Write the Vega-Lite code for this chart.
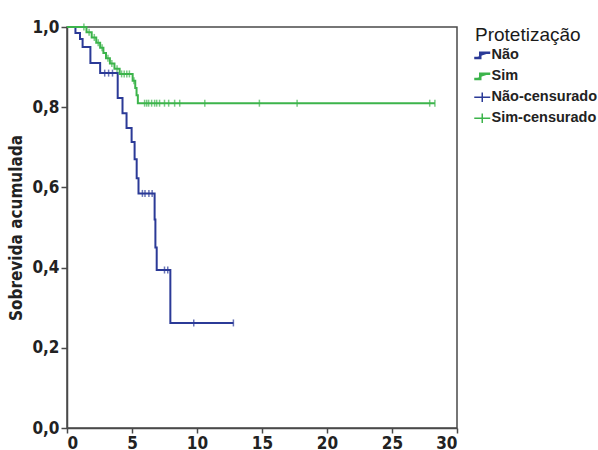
{
  "$schema": "https://vega.github.io/schema/vega-lite/v6.json",
  "width": 390,
  "height": 401,
  "autosize": {"type": "none"},
  "padding": {"left": 67, "top": 27, "right": 141, "bottom": 22},
  "background": "white",
  "config": {
    "view": {"stroke": "#4a4a4a", "strokeWidth": 1.5},
    "axis": {
      "grid": false,
      "domainColor": "#4a4a4a",
      "domainWidth": 1.5,
      "tickColor": "#4a4a4a",
      "tickWidth": 1.5,
      "labelFont": "Liberation Sans Narrow, DejaVu Sans Condensed, sans-serif",
      "labelFontSize": 17,
      "labelFontWeight": "bold",
      "labelColor": "#222222",
      "titleFont": "Liberation Sans Narrow, DejaVu Sans Condensed, sans-serif",
      "titleFontSize": 17,
      "titleFontWeight": "bold",
      "titleColor": "#222222"
    }
  },
  "datasets": {
    "curves": [
      {"grupo": "Não", "t": 0, "s": 1.0},
      {"grupo": "Não", "t": 0.65, "s": 0.985},
      {"grupo": "Não", "t": 1.0, "s": 0.97},
      {"grupo": "Não", "t": 1.2, "s": 0.95},
      {"grupo": "Não", "t": 1.8, "s": 0.91},
      {"grupo": "Não", "t": 2.55, "s": 0.885},
      {"grupo": "Não", "t": 3.9, "s": 0.823},
      {"grupo": "Não", "t": 4.27, "s": 0.785},
      {"grupo": "Não", "t": 4.58, "s": 0.748},
      {"grupo": "Não", "t": 4.97, "s": 0.713},
      {"grupo": "Não", "t": 5.2, "s": 0.67},
      {"grupo": "Não", "t": 5.36, "s": 0.623},
      {"grupo": "Não", "t": 5.5, "s": 0.585},
      {"grupo": "Não", "t": 6.74, "s": 0.52},
      {"grupo": "Não", "t": 6.8, "s": 0.45},
      {"grupo": "Não", "t": 6.9, "s": 0.394},
      {"grupo": "Não", "t": 7.95, "s": 0.262},
      {"grupo": "Não", "t": 12.8, "s": 0.262},
      {"grupo": "Sim", "t": 0, "s": 1.0},
      {"grupo": "Sim", "t": 1.5, "s": 0.987},
      {"grupo": "Sim", "t": 1.9, "s": 0.974},
      {"grupo": "Sim", "t": 2.25, "s": 0.961},
      {"grupo": "Sim", "t": 2.55, "s": 0.948},
      {"grupo": "Sim", "t": 2.8, "s": 0.935},
      {"grupo": "Sim", "t": 3.0, "s": 0.922},
      {"grupo": "Sim", "t": 3.3, "s": 0.909},
      {"grupo": "Sim", "t": 3.65, "s": 0.896},
      {"grupo": "Sim", "t": 4.05, "s": 0.883},
      {"grupo": "Sim", "t": 5.05, "s": 0.866},
      {"grupo": "Sim", "t": 5.25, "s": 0.848},
      {"grupo": "Sim", "t": 5.35, "s": 0.83},
      {"grupo": "Sim", "t": 5.45, "s": 0.81},
      {"grupo": "Sim", "t": 28.3, "s": 0.81}
    ],
    "censors": [
      {"grupo": "Não-censurado", "t": 2.9, "s": 0.885},
      {"grupo": "Não-censurado", "t": 3.2, "s": 0.885},
      {"grupo": "Não-censurado", "t": 3.5, "s": 0.885},
      {"grupo": "Não-censurado", "t": 5.8, "s": 0.585},
      {"grupo": "Não-censurado", "t": 6.0, "s": 0.585},
      {"grupo": "Não-censurado", "t": 6.3, "s": 0.585},
      {"grupo": "Não-censurado", "t": 6.55, "s": 0.585},
      {"grupo": "Não-censurado", "t": 7.5, "s": 0.394},
      {"grupo": "Não-censurado", "t": 7.75, "s": 0.394},
      {"grupo": "Não-censurado", "t": 9.75, "s": 0.262},
      {"grupo": "Não-censurado", "t": 12.8, "s": 0.262},
      {"grupo": "Sim-censurado", "t": 1.3, "s": 1.0},
      {"grupo": "Sim-censurado", "t": 1.7, "s": 0.987},
      {"grupo": "Sim-censurado", "t": 2.1, "s": 0.974},
      {"grupo": "Sim-censurado", "t": 2.4, "s": 0.961},
      {"grupo": "Sim-censurado", "t": 2.7, "s": 0.948},
      {"grupo": "Sim-censurado", "t": 3.15, "s": 0.922},
      {"grupo": "Sim-censurado", "t": 3.45, "s": 0.909},
      {"grupo": "Sim-censurado", "t": 3.85, "s": 0.896},
      {"grupo": "Sim-censurado", "t": 4.2, "s": 0.883},
      {"grupo": "Sim-censurado", "t": 4.4, "s": 0.883},
      {"grupo": "Sim-censurado", "t": 4.6, "s": 0.883},
      {"grupo": "Sim-censurado", "t": 4.8, "s": 0.883},
      {"grupo": "Sim-censurado", "t": 5.15, "s": 0.866},
      {"grupo": "Sim-censurado", "t": 5.97, "s": 0.81},
      {"grupo": "Sim-censurado", "t": 6.13, "s": 0.81},
      {"grupo": "Sim-censurado", "t": 6.28, "s": 0.81},
      {"grupo": "Sim-censurado", "t": 6.51, "s": 0.81},
      {"grupo": "Sim-censurado", "t": 6.74, "s": 0.81},
      {"grupo": "Sim-censurado", "t": 6.9, "s": 0.81},
      {"grupo": "Sim-censurado", "t": 7.12, "s": 0.81},
      {"grupo": "Sim-censurado", "t": 7.5, "s": 0.81},
      {"grupo": "Sim-censurado", "t": 7.82, "s": 0.81},
      {"grupo": "Sim-censurado", "t": 8.28, "s": 0.81},
      {"grupo": "Sim-censurado", "t": 8.67, "s": 0.81},
      {"grupo": "Sim-censurado", "t": 10.6, "s": 0.81},
      {"grupo": "Sim-censurado", "t": 14.8, "s": 0.81},
      {"grupo": "Sim-censurado", "t": 17.7, "s": 0.81},
      {"grupo": "Sim-censurado", "t": 27.9, "s": 0.81},
      {"grupo": "Sim-censurado", "t": 28.3, "s": 0.81}
    ]
  },
  "layer": [
    {
      "data": {"name": "curves"},
      "mark": {"type": "line", "interpolate": "step-after", "strokeWidth": 2},
      "encoding": {
        "x": {
          "field": "t", "type": "quantitative",
          "scale": {"domain": [0, 30], "nice": false, "zero": false},
          "axis": {"title": null, "values": [0, 5, 10, 15, 20, 25, 30], "tickSize": 5, "labelPadding": 2}
        },
        "y": {
          "field": "s", "type": "quantitative",
          "scale": {"domain": [0, 1], "nice": false},
          "axis": {
            "title": "Sobrevida acumulada",
            "values": [0, 0.2, 0.4, 0.6, 0.8, 1.0],
            "labelExpr": "replace(format(datum.value, '.1f'), '.', ',')",
            "tickSize": 6,
            "labelPadding": 2,
            "titleX": -42
          }
        },
        "color": {
          "field": "grupo", "type": "nominal",
          "scale": {
            "domain": ["Não", "Sim", "Não-censurado", "Sim-censurado"],
            "range": ["#2b3a97", "#3cb44b", "#2b3a97", "#3cb44b"]
          },
          "legend": {
            "title": "Protetização",
            "orient": "none",
            "legendX": 408,
            "legendY": -1,
            "titleFont": "Liberation Sans, sans-serif",
            "titleFontSize": 19,
            "titleFontWeight": "normal",
            "titleColor": "#1a1a1a",
            "titlePadding": 3,
            "labelFont": "Liberation Sans, sans-serif",
            "labelFontSize": 14.5,
            "labelFontWeight": "bold",
            "labelColor": "#222222",
            "labelOffset": 2,
            "symbolSize": 256,
            "rowPadding": 4,
            "encode": {
              "symbols": {
                "update": {
                  "shape": {"signal": "(datum.value == 'Não' || datum.value == 'Sim') ? 'M-1,0.35L-0.25,0.35L-0.25,-0.3L1,-0.3' : 'M-1,0L1,0M0,-0.6L0,0.6'"},
                  "fill": {"value": "transparent"},
                  "stroke": {"signal": "scale('color', datum.value)"},
                  "strokeWidth": {"signal": "(datum.value == 'Não' || datum.value == 'Sim') ? 2.5 : 1.5"},
                  "opacity": {"value": 1}
                }
              }
            }
          }
        }
      }
    },
    {
      "data": {"name": "censors"},
      "mark": {"type": "tick", "orient": "vertical", "size": 7, "thickness": 1.5},
      "encoding": {
        "x": {"field": "t", "type": "quantitative"},
        "y": {"field": "s", "type": "quantitative"},
        "color": {"field": "grupo", "type": "nominal"}
      }
    }
  ]
}
